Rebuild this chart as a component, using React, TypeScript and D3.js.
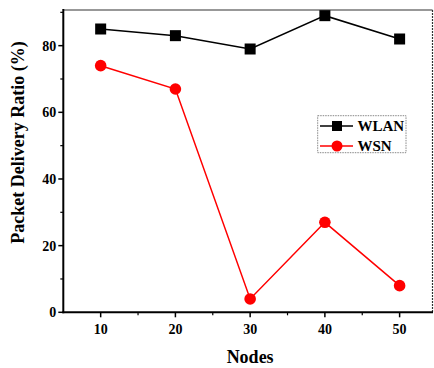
import React from "react";
import * as d3 from "d3";

const nodes = [10, 20, 30, 40, 50];
const wlan = [85, 83, 79, 89, 82];
const wsn = [74, 67, 4, 27, 8];
const xTicks = [10, 20, 30, 40, 50];
const xMinor = [15, 25, 35, 45];
const yTicks = [0, 20, 40, 60, 80];
const yMinor = [10, 30, 50, 70, 90];

const W = 434, H = 368;
const L = 63.3, R = 432.5, T = 10, B = 312.3;
const font = "'Liberation Serif', 'Times New Roman', serif";

export default function App() {
  const x = d3.scaleLinear().domain([5, 54.4]).range([L, R]);
  const y = d3.scaleLinear().domain([0, 90.7]).range([B, T]);
  const line = d3.line<number>().x((_, i) => x(nodes[i])).y((d) => y(d));
  return (
    <svg width={W} height={H} style={{ position: "absolute", left: 0, top: 0 }} fontFamily={font}>
      <rect x={0} y={0} width={W} height={H} fill="#fff" />
      {/* frame */}
      <line x1={L} y1={T} x2={R} y2={T} stroke="#333" strokeWidth={1.2} />
      <line x1={R} y1={T} x2={R} y2={B} stroke="#333" strokeWidth={1.2} strokeDasharray="2,1" />
      <line x1={L} y1={T - 1} x2={L} y2={B + 1} stroke="#000" strokeWidth={2} />
      <line x1={L - 1} y1={B} x2={R + 0.5} y2={B} stroke="#000" strokeWidth={2} />
      {/* y ticks */}
      {yTicks.map((t) => (
        <g key={"y" + t}>
          <line x1={L - 5} x2={L} y1={y(t)} y2={y(t)} stroke="#000" strokeWidth={1.5} />
          <text x={L - 7} y={y(t)} dy="0.35em" textAnchor="end" fontSize={14} fontWeight="bold">{t}</text>
        </g>
      ))}
      {yMinor.map((t) => (
        <line key={"ym" + t} x1={L - 3} x2={L} y1={y(t)} y2={y(t)} stroke="#000" strokeWidth={1.2} />
      ))}
      {/* x ticks */}
      {xTicks.map((t) => (
        <g key={"x" + t}>
          <line x1={x(t)} x2={x(t)} y1={B} y2={B + 5} stroke="#000" strokeWidth={1.5} />
          <text x={x(t)} y={B + 22} textAnchor="middle" fontSize={14} fontWeight="bold">{t}</text>
        </g>
      ))}
      {xMinor.map((t) => (
        <line key={"xm" + t} x1={x(t)} x2={x(t)} y1={B} y2={B + 3} stroke="#000" strokeWidth={1.2} />
      ))}
      {/* axis titles */}
      <text transform={`translate(24,${(38 + 247) / 2}) rotate(-90)`} textAnchor="middle" fontSize={18} fontWeight="bold">Packet Delivery Ratio (%)</text>
      <text x={x(30)} y={363} textAnchor="middle" fontSize={18} fontWeight="bold">Nodes</text>
      {/* series */}
      <path d={line(wlan) || ""} fill="none" stroke="#000" strokeWidth={1.5} />
      {wlan.map((v, i) => (
        <rect key={"s" + i} x={x(nodes[i]) - 5.5} y={y(v) - 5.5} width={11} height={11} fill="#000" />
      ))}
      <path d={line(wsn) || ""} fill="none" stroke="#ff0000" strokeWidth={1.5} />
      {wsn.map((v, i) => (
        <circle key={"c" + i} cx={x(nodes[i])} cy={y(v)} r={5.8} fill="#ff0000" />
      ))}
      {/* legend */}
      <rect x={317.7} y={115.7} width={88.3} height={37} fill="#fff" stroke="#888" strokeWidth={1} strokeDasharray="1.5,1" />
      <line x1={320} x2={353} y1={126} y2={126} stroke="#000" strokeWidth={1.5} />
      <rect x={337 - 5} y={126 - 5} width={10} height={10} fill="#000" />
      <text x={357.5} y={126} dy="0.35em" fontSize={15} fontWeight="bold">WLAN</text>
      <line x1={320} x2={353} y1={146} y2={146} stroke="#ff0000" strokeWidth={1.5} />
      <circle cx={337} cy={146} r={5.5} fill="#ff0000" />
      <text x={357.5} y={146} dy="0.35em" fontSize={15} fontWeight="bold">WSN</text>
    </svg>
  );
}
